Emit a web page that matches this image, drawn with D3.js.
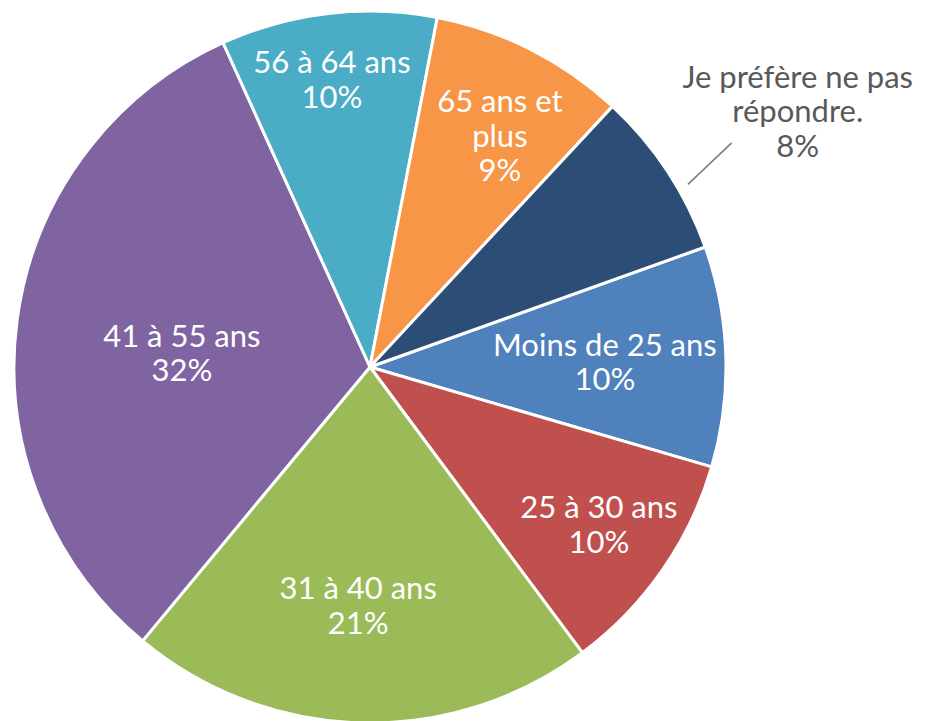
<!DOCTYPE html>
<html>
<head>
<meta charset="utf-8">
<script src="https://cdn.jsdelivr.net/npm/d3@7"></script>
<style>
  html, body { margin: 0; padding: 0; background: #fff; }
  svg { display: block; }
</style>
</head>
<body>
<svg width="930" height="721"></svg>
<script>
// data, in Excel's series order
const categories = ["Moins de 25 ans", "25 à 30 ans", "31 à 40 ans", "41 à 55 ans", "56 à 64 ans", "65 ans et plus", "Je préfère ne pas répondre."];
const labelText = ["Moins de 25 ans", "25 à 30 ans", "31 à 40 ans", "41 à 55 ans", "56 à 64 ans", "65 ans et\nplus", "Je préfère ne pas\nrépondre."];
const shares = [10.0, 10.3, 21.2, 32.2, 9.8, 8.9, 7.6];
const colors = ["#4F81BD", "#C0504D", "#9BBB59", "#8064A2", "#4BACC6", "#F79646", "#2C4D75"];

// label placement (radius as fraction of pie radius, angle nudge in degrees)
const labelRadius = [0.66, 0.78, 0.67, 0.53, 0.815, 0.745, 1.40];
const labelNudge = [0.4, -0.35, 1.3, -3.4, -0.8, 2.4, 2.5];
const outside = [false, false, false, false, false, false, true];

const canvas = d3.select("svg");
const cx = 370, cy = 367, radius = 356;
const fontSize = 31, lineH = 34.5;
const rad = (deg) => deg * Math.PI / 180;

const table = categories.map((c, i) => ({ cat: c, value: shares[i], label: labelText[i], color: colors[i], i: i }));

const start = rad(70.3);
const pie = d3.pie().sort(null).value(d => d.value).startAngle(start).endAngle(start + 2 * Math.PI);
const arcs = pie(table);
const arc = d3.arc().innerRadius(0).outerRadius(radius);

const g = canvas.append("g").attr("transform", `translate(${cx},${cy})`);

g.selectAll("path.slice")
  .data(arcs)
  .join("path")
  .attr("class", "slice")
  .attr("d", arc)
  .attr("fill", d => d.data.color)
  .attr("stroke", "#fff")
  .attr("stroke-width", 3)
  .attr("stroke-linejoin", "round");

// leader line for the outside label
arcs.filter(d => outside[d.data.i]).forEach(d => {
  const mid = (d.startAngle + d.endAngle) / 2;
  const p0 = d3.pointRadial(mid + rad(3.5), radius * 1.03);
  const p1 = d3.pointRadial(mid + rad(1.6), radius * 1.195);
  g.append("line")
    .attr("x1", p0[0]).attr("y1", p0[1])
    .attr("x2", p1[0]).attr("y2", p1[1])
    .attr("stroke", "#7f7f7f")
    .attr("stroke-width", 1.6);
});

const labels = g.selectAll("text.lbl")
  .data(arcs)
  .join("text")
  .attr("class", "lbl")
  .attr("text-anchor", "middle")
  .attr("font-family", "'Century Gothic', Lato, 'Open Sans', sans-serif")
  .attr("font-size", fontSize)
  .attr("fill", d => outside[d.data.i] ? "#595959" : "#fff")
  .each(function(d) {
    const i = d.data.i;
    const mid = (d.startAngle + d.endAngle) / 2 + rad(labelNudge[i]);
    const p = d3.pointRadial(mid, radius * labelRadius[i]);
    const lines = d.data.label.split("\n").concat([Math.round(d.data.value) + "%"]);
    const y0 = p[1] - (lines.length - 1) * lineH / 2 + fontSize * 0.36;
    d3.select(this).selectAll("tspan")
      .data(lines)
      .join("tspan")
      .attr("x", p[0])
      .attr("y", (t, k) => y0 + k * lineH)
      .text(t => t);
  });
</script>
</body>
</html>
